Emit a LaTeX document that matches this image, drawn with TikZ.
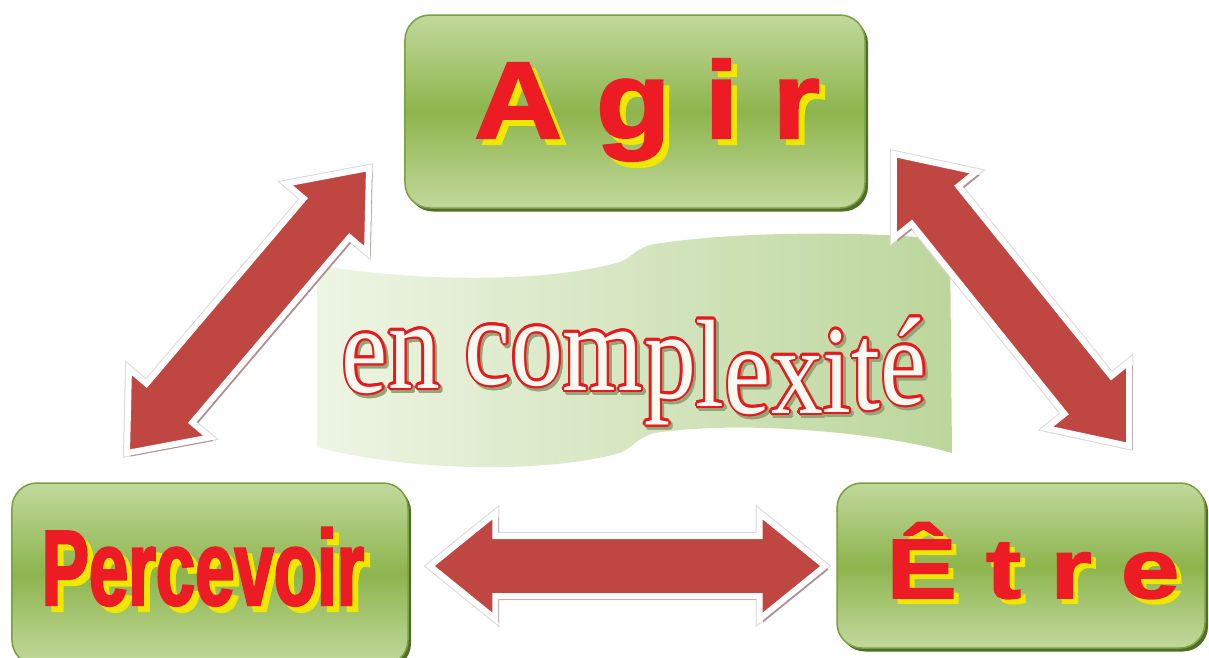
\documentclass[tikz,border=0pt]{standalone}
\usepackage{fontspec}
\usepackage[copies]{contour}
\usetikzlibrary{calc,shapes.arrows,shadows}
\newfontfamily\boxfont[FakeBold=2,FakeStretch=1.12]{Liberation Sans Bold}
\newfontfamily\widefont[FakeBold=2,FakeStretch=1.25]{Liberation Sans Bold}
\newfontfamily\narrowfont[FakeBold=2,FakeStretch=0.66]{Liberation Sans Bold}
\newfontfamily\wavefont{Liberation Serif}
\definecolor{boxlight}{RGB}{194,216,156}
\definecolor{boxmid}{RGB}{141,181,78}
\definecolor{boxedge}{RGB}{120,160,65}
\definecolor{boxshadow}{RGB}{80,110,40}
\definecolor{textred}{RGB}{237,28,36}
\definecolor{textyellow}{RGB}{238,232,0}
\definecolor{arrowred}{RGB}{192,70,66}
\definecolor{arrowshadow}{RGB}{165,135,135}
\definecolor{banlight}{RGB}{238,245,228}
\definecolor{bangreen}{RGB}{188,214,156}
\definecolor{wavered}{RGB}{230,25,30}
\definecolor{wavefill}{RGB}{246,250,240}
\definecolor{waveshadow}{RGB}{150,165,120}
\contourlength{1.2pt}
\newcommand{\waveletter}[1]{%
  \rlap{\hspace{0.5mm}\raisebox{-0.5mm}{\contour{waveshadow}{\textcolor{waveshadow}{#1}}}}%
  \contour{wavered}{\textcolor{wavefill}{#1}}}
\newcommand{\blockarrowbetween}[3]{%
  \path let \p1=($(#2)-(#1)$) in
    node[blockarrow, rotate={atan2(\y1,\x1)}, minimum height={veclen(\x1,\y1)}] (#3) at ($(#1)!0.5!(#2)$) {};}
\tikzset{
  greenbox/.style={rounded corners=5mm, draw=boxedge, line width=0.3mm,
    top color=boxlight, bottom color=boxlight, middle color=boxmid,
    drop shadow={shadow xshift=0.6mm, shadow yshift=-0.7mm, fill=boxshadow, opacity=1}},
  boxtext/.style={inner sep=0pt, anchor=base},
  blockarrow/.style={double arrow, fill=arrowred, draw=white, line width=1.2mm,
    inner xsep=0pt, inner ysep=5.4mm, minimum width=0pt,
    double arrow head extend=4.6mm, double arrow tip angle=78,
    preaction={draw=black!15, line width=1.6mm},
    drop shadow={shadow xshift=0.7mm, shadow yshift=-0.7mm, fill=arrowshadow, opacity=0.9}},
  banner/.style={shading=axis, shading angle=60, left color=banlight, right color=bangreen},
  wavetext/.style={inner sep=0pt, anchor=base, font=\fontsize{59}{59}\wavefont}
}
\begin{document}
\begin{tikzpicture}[x=0.2mm,y=-0.2mm]
  \useasboundingbox (0,0) rectangle (1209,657);
  % ribbon in the middle
  \path[banner] (317,265) .. controls (400,280) and (540,285) .. (620,262)
    .. controls (632,258) and (636,247) .. (655,244)
    .. controls (730,232) and (860,230) .. (950,240) -- (952,453)
    .. controls (880,432) and (740,420) .. (655,433)
    .. controls (638,437) and (632,448) .. (620,453)
    .. controls (540,475) and (400,470) .. (317,447) -- cycle;
  \foreach \ch/\x/\y [count=\i] in {e/365/392, n/414/388, c/488/384, o/537/385, m/603/390, p/670/398,
      l/710/406, e/748/413, x/797/413, i/837/412, t/866/409, é/904/404}
  {
    \node[wavetext] (w\i) at (\x,\y) {\scalebox{1}[1.2]{\waveletter{\ch}}};
  }
  % arrows
  \coordinate (la1) at (369,168);
  \coordinate (la2) at (127,453);
  \coordinate (ra1) at (894,154);
  \coordinate (ra2) at (1129,446);
  \coordinate (ha1) at (430,566);
  \coordinate (ha2) at (825,566);
  \blockarrowbetween{la1}{la2}{leftarrow}
  \blockarrowbetween{ra1}{ra2}{rightarrow}
  \blockarrowbetween{ha1}{ha2}{bottomarrow}
  % boxes
  \node[greenbox, minimum width=92mm, minimum height=38.6mm] (agir) at (635,111.5) {};
  \node[greenbox, minimum width=79.2mm, minimum height=36.4mm] (percevoir) at (210,574) {};
  \node[greenbox, minimum width=73.6mm, minimum height=33mm] (etre) at (1021,565.5) {};
  \node[boxtext, font=\fontsize{62}{62}\boxfont, text=textred]
    (agirtxt) at (647,138) {\rlap{\hspace{1.2mm}\raisebox{-1.2mm}{\color{textyellow}A g i r}}A g i r};
  \node[boxtext, font=\fontsize{61}{61}\narrowfont, text=textred]
    (perctxt) at (203,605) {\rlap{\hspace{1.2mm}\raisebox{-1.2mm}{\color{textyellow}Percevoir}}Percevoir};
  \node[boxtext, font=\fontsize{48}{48}\widefont, text=textred]
    (etretxt) at (1033,598) {\rlap{\hspace{1mm}\raisebox{-1mm}{\color{textyellow}Ê t r e}}Ê t r e};
\end{tikzpicture}
\end{document}
